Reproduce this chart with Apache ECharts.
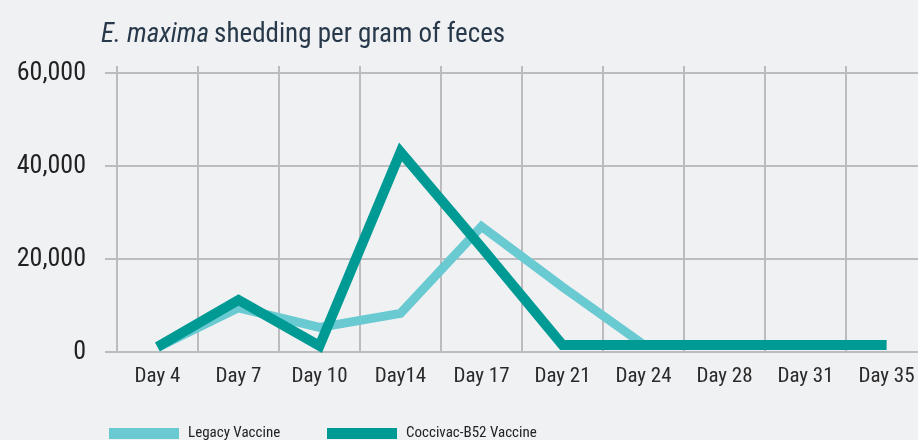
<!DOCTYPE html>
<html>
<head>
<meta charset="utf-8">
<script src="https://cdn.jsdelivr.net/npm/echarts@6/dist/echarts.min.js"></script>
<style>
html,body{margin:0;padding:0;background:#F0F1F3;}
#c{width:918px;height:440px;}
</style>
</head>
<body>
<div id="c"></div>
<script>
var categories = ['Day 4','Day 7','Day 10','Day14','Day 17','Day 21','Day 24','Day 28','Day 31','Day 35'];
var legacyValues = [1000, 9500, 5300, 8300, 27000, 14000, 1600, 1600, 1600, 1600];
var coccivacValues = [1100, 11200, 1300, 43000, 22500, 1500, 1500, 1500, 1500, 1500];
var yTicks = [0, 20000, 40000, 60000];
var seriesNames = ['Legacy Vaccine', 'Coccivac-B52 Vaccine'];

var FONT = '"Liberation Sans Narrow","Roboto Condensed","DejaVu Sans Condensed",sans-serif';
var GRID = '#BCBCBF';
var legendText = {fontFamily: FONT, fontSize: 15, color: '#222', padding: [0,0,0,4]};
var chart = echarts.init(document.getElementById('c'));
chart.setOption({
  backgroundColor: '#F0F1F3',
  animation: false,
  title: {
    left: 96, top: 17,
    text: '{i|E. maxima} {n|shedding per gram of feces}',
    textStyle: {
      fontWeight: 'normal',
      rich: {
        i: {fontFamily: FONT, fontStyle: 'italic', fontWeight: 'normal', fontSize: 27, color: '#27394A'},
        n: {fontFamily: FONT, fontWeight: 'normal', fontSize: 27, color: '#27394A'}
      }
    }
  },
  legend: [{
    left: 109, top: 426, padding: 0,
    icon: 'rect', itemWidth: 70, itemHeight: 11,
    textStyle: legendText,
    data: [seriesNames[0]]
  }, {
    left: 327, top: 426, padding: 0,
    icon: 'rect', itemWidth: 70, itemHeight: 11,
    textStyle: legendText,
    data: [seriesNames[1]]
  }],
  grid: {left: 117, width: 810, top: 73, height: 279, containLabel: false, outerBoundsMode: 'none'},
  xAxis: [{
    type: 'category', data: categories, boundaryGap: true,
    axisLine: {show: true, lineStyle: {color: GRID, width: 2}},
    axisTick: {show: false},
    axisLabel: {fontFamily: FONT, fontSize: 21, color: '#2a2a2a', margin: 14},
    splitLine: {show: true, lineStyle: {color: GRID, width: 2}}
  }, {
    type: 'category', data: categories, boundaryGap: true, position: 'top',
    axisLine: {show: false},
    axisTick: {show: true, length: 7, lineStyle: {color: GRID, width: 2}},
    axisLabel: {show: false},
    splitLine: {show: false}
  }],
  yAxis: {
    type: 'value', min: yTicks[0], max: yTicks[yTicks.length-1], interval: yTicks[1]-yTicks[0],
    axisLine: {show: false},
    axisTick: {show: true, length: 12, lineStyle: {color: GRID, width: 2}},
    axisLabel: {fontFamily: FONT, fontSize: 26, color: '#222', margin: 31,
      formatter: function(v){ return v.toLocaleString('en-US'); }},
    splitLine: {show: true, lineStyle: {color: GRID, width: 2}}
  },
  series: [{
    name: seriesNames[0], type: 'line', data: legacyValues,
    showSymbol: false, symbol: 'none',
    itemStyle: {color: '#69CAD2'},
    lineStyle: {color: '#69CAD2', width: 9, join: 'miter', cap: 'butt'},
    z: 2
  }, {
    name: seriesNames[1], type: 'line', data: coccivacValues,
    showSymbol: false, symbol: 'none',
    itemStyle: {color: '#009A94'},
    lineStyle: {color: '#009A94', width: 10, join: 'miter', cap: 'butt'},
    z: 3
  }]
});
</script>
</body>
</html>
